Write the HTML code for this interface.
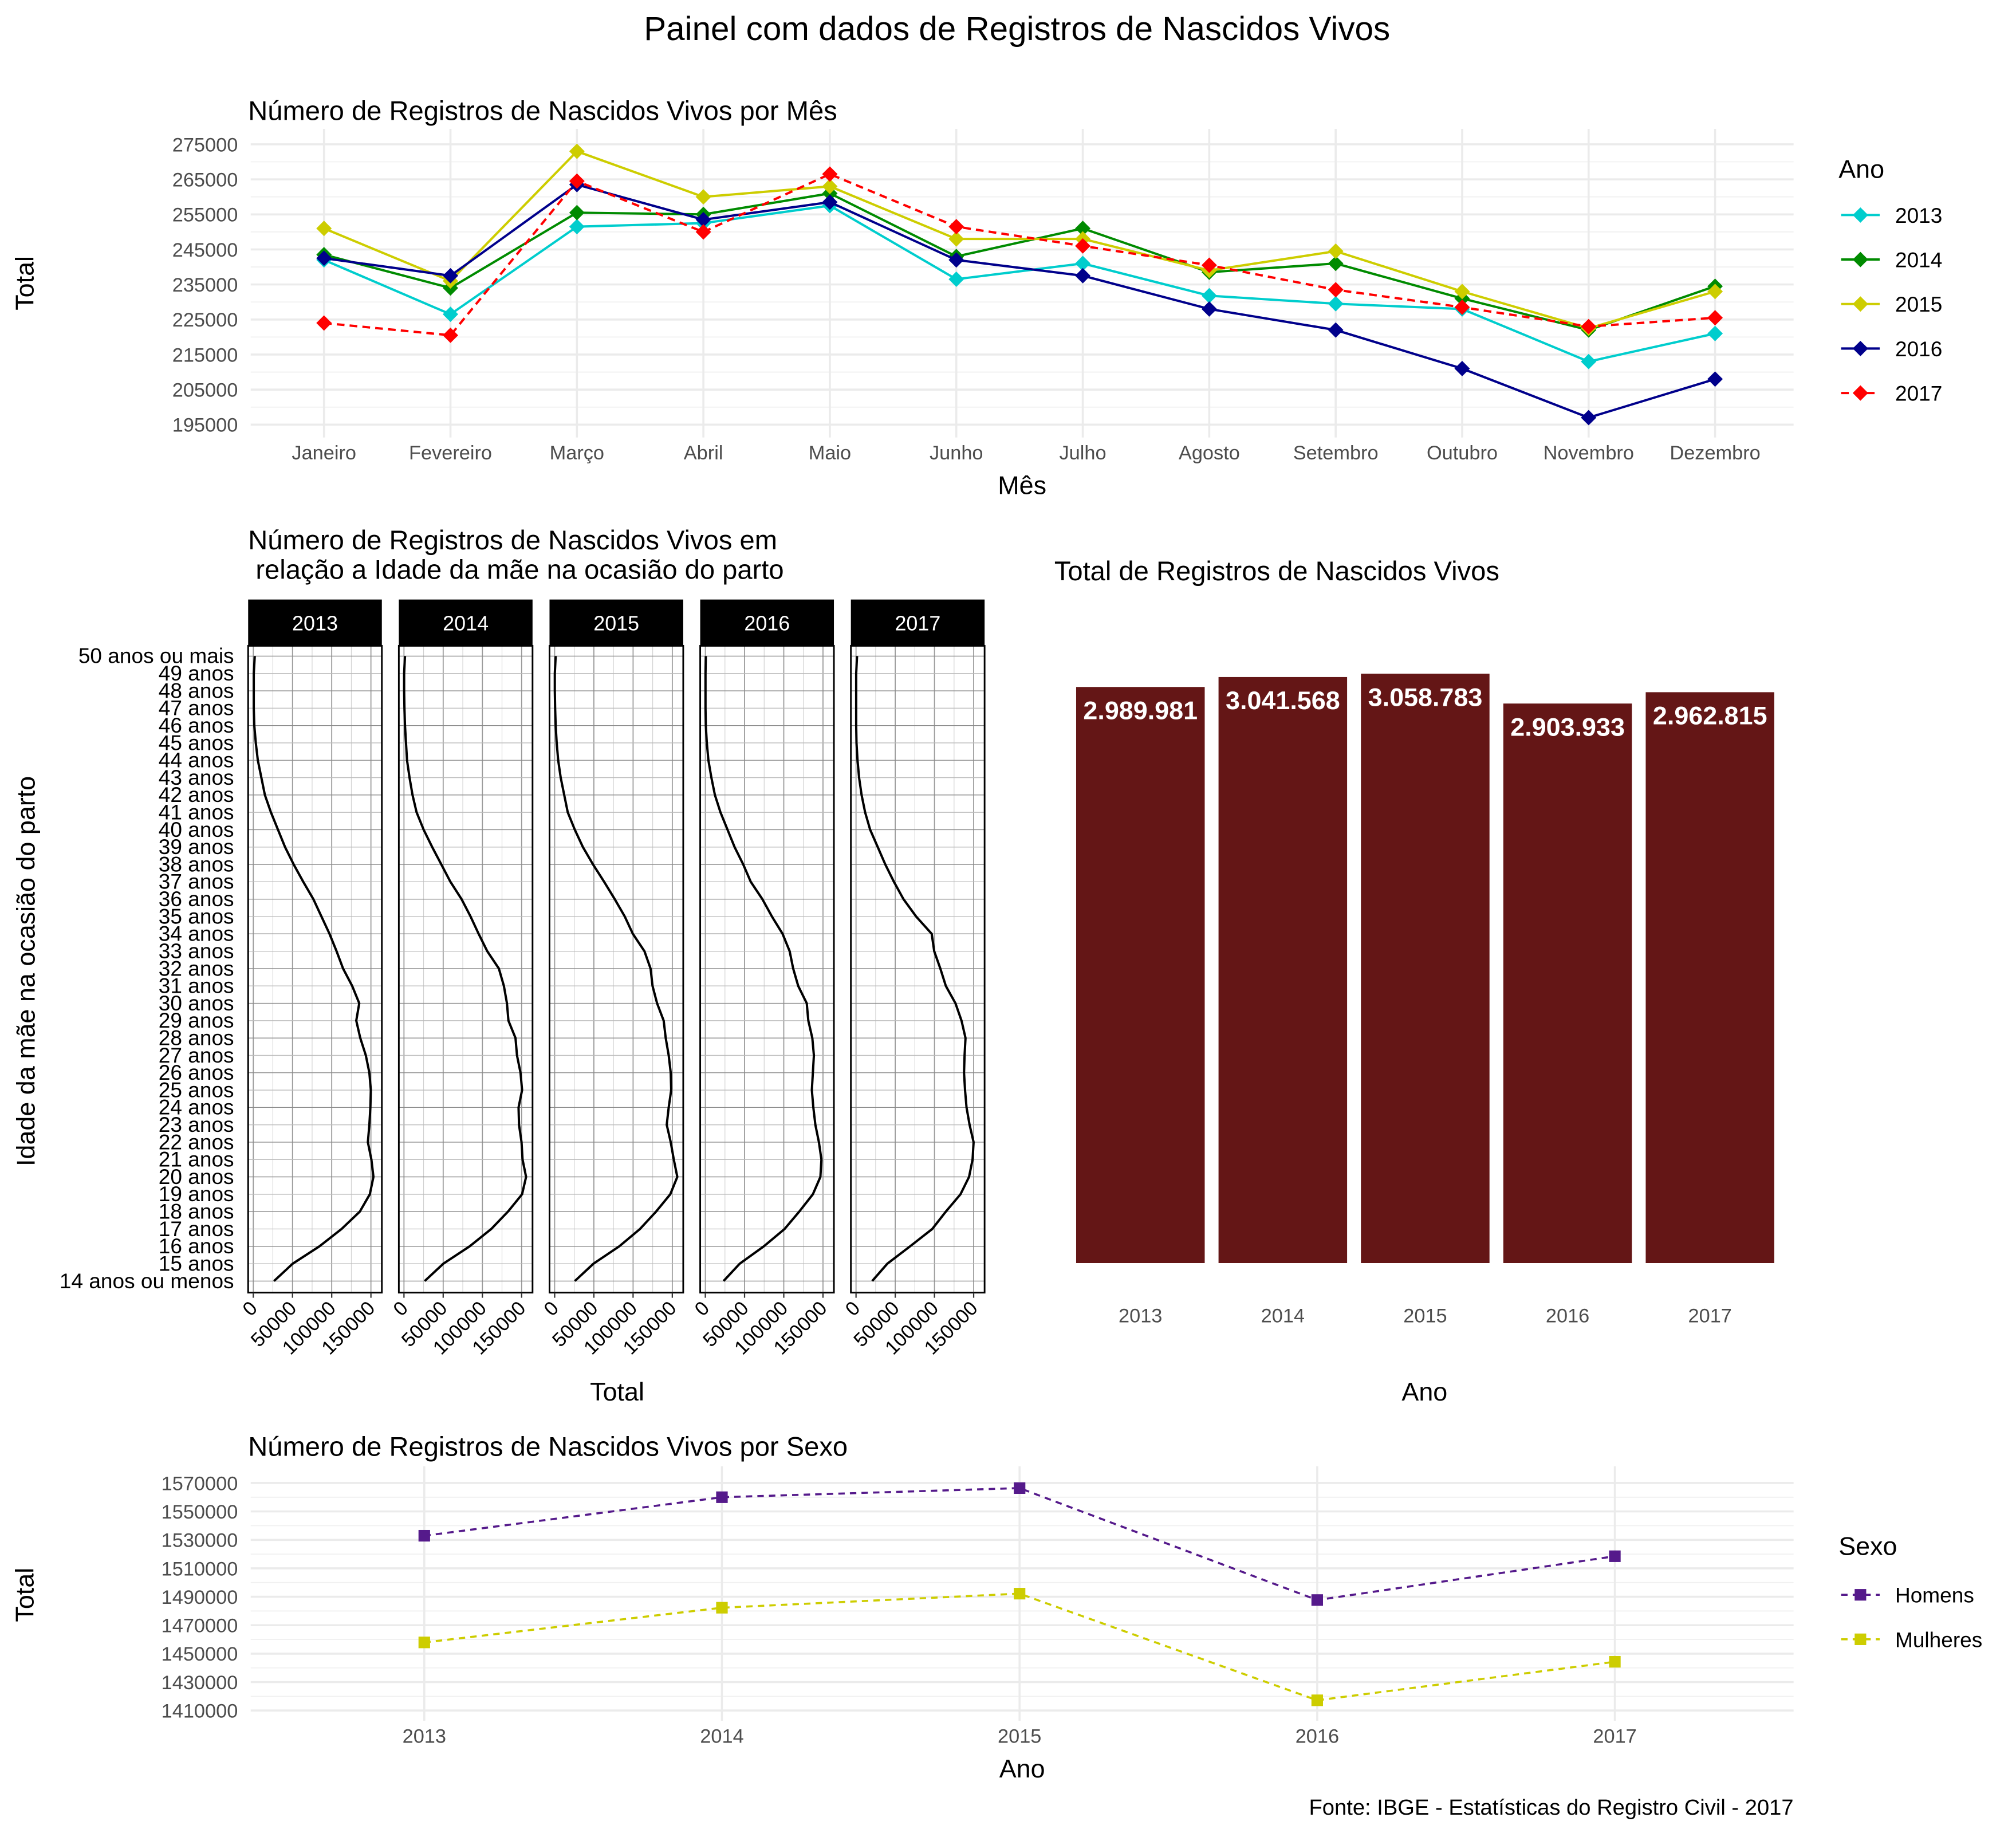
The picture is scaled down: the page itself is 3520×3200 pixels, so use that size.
<!DOCTYPE html>
<html><head><meta charset="utf-8">
<style>
html,body{margin:0;padding:0;background:#fff;}
svg{display:block;font-family:"Liberation Sans",Arial,sans-serif;}
</style></head>
<body>
<svg id="root" width="3520" height="3200" viewBox="0 0 1568 1425" xmlns="http://www.w3.org/2000/svg">
<rect width="1568" height="1425" fill="#fff"/>
<text x="791" y="31" text-anchor="middle" font-size="26">Painel com dados de Registros de Nascidos Vivos</text>
<g id="g1"></g>
<g id="g2"></g>
<g id="g3"></g>
<g id="g4"></g>
<text x="1395" y="1411" text-anchor="end" font-size="17">Fonte: IBGE - Estatísticas do Registro Civil - 2017</text>
</svg>
<script>
// ---- Chart 1 data ----
const months = ["Janeiro","Fevereiro","Março","Abril","Maio","Junho","Julho","Agosto","Setembro","Outubro","Novembro","Dezembro"];
const years = ["2013","2014","2015","2016","2017"];
const m2013 = [242000,226500,251500,252500,257500,236500,241000,231800,229500,228000,213000,221000];
const m2014 = [243500,234000,255500,255000,261000,243000,251000,238500,241000,231000,222000,234500];
const m2015 = [251000,236000,273000,260000,263000,248000,248000,239000,244500,233000,222500,233000];
const m2016 = [242500,237500,263500,253500,258500,242000,237500,228000,222000,211000,197000,208000];
const m2017 = [224000,220500,264500,250000,266500,251500,246000,240500,233500,228500,223000,225500];
const monthTicks = [195000,205000,215000,225000,235000,245000,255000,265000,275000];
// ---- Chart 2 data ----
const ages = ["14 anos ou menos","15 anos","16 anos","17 anos","18 anos","19 anos","20 anos","21 anos","22 anos","23 anos","24 anos","25 anos","26 anos","27 anos","28 anos","29 anos","30 anos","31 anos","32 anos","33 anos","34 anos","35 anos","36 anos","37 anos","38 anos","39 anos","40 anos","41 anos","42 anos","43 anos","44 anos","45 anos","46 anos","47 anos","48 anos","49 anos","50 anos ou mais"];
const a2013 = [26400,50200,84300,112600,135800,148600,153200,150600,146100,148000,149300,149900,148000,143500,136400,131300,135100,126100,114500,106200,97200,86900,76600,63700,51500,40500,31500,22500,14800,10300,5800,3200,1300,600,600,600,1900];
const a2014 = [26400,50200,83700,111300,132600,150600,155700,151200,149900,146700,146100,150600,148600,144100,142200,133200,131300,127400,121000,106200,95200,84900,73400,59200,47600,36000,25100,16100,10900,7100,3900,2600,1300,600,200,200,1300];
const a2015 = [25700,49500,82400,108800,129300,147400,156400,151900,148000,142900,145400,148600,148000,145400,141600,139000,130600,124800,122300,114500,99700,89400,76600,63100,48900,36000,25700,16700,12200,7700,4500,2600,1300,600,200,200,1300];
const a2016 = [23200,43800,74600,101000,119700,137100,146700,148000,144800,140300,137700,135800,137100,138400,136400,131300,129300,118400,112000,107500,98500,84900,72700,57900,48300,37300,28300,19300,12200,7700,3900,1900,600,200,200,200,600];
const a2017 = [20600,39900,68900,97200,114500,133200,144100,148600,149900,144800,140900,139000,137700,138400,139600,134500,126800,114500,107500,99700,96500,76600,60500,48300,37300,27700,18000,11600,7100,3900,1900,600,200,200,200,200,1300];
const ageTicks = [0,50000,100000,150000];
// ---- Chart 3 data ----
const totals = [2989981,3041568,3058783,2903933,2962815];
const totalLabels = ["2.989.981","3.041.568","3.058.783","2.903.933","2.962.815"];
// ---- Chart 4 data ----
const homens = [1532900,1560000,1566400,1487700,1518500];
const mulheres = [1457900,1482300,1492200,1417200,1444300];
const sexTicks = [1410000,1430000,1450000,1470000,1490000,1510000,1530000,1550000,1570000];

const NS="http://www.w3.org/2000/svg";
function mk(parent,tag,attrs,text){const e=document.createElementNS(NS,tag);for(const k in attrs)e.setAttribute(k,attrs[k]);if(text!==undefined)e.textContent=text;parent.appendChild(e);return e;}
function diamond(x,y,r){return `M${x},${y-r}L${x+r},${y}L${x},${y+r}L${x-r},${y}Z`;}

// ===== Chart 1 =====
(function(){
  const g=document.getElementById('g1');
  const L=195,R=1395,T=100,B=340;
  const y=v=>330-(v-195000)/10000*27.25;
  const x=i=>252+i*98.36;
  let t=mk(g,'text',{x:193,y:93,'font-size':21},'Número de Registros de Nascidos Vivos por Mês');
  
  for(let i=0;i<monthTicks.length-1;i++){const v=(monthTicks[i]+monthTicks[i+1])/2;mk(g,'line',{x1:L,x2:R,y1:y(v),y2:y(v),stroke:'#f0f0f0','stroke-width':0.8});}
  monthTicks.forEach(v=>{mk(g,'line',{x1:L,x2:R,y1:y(v),y2:y(v),stroke:'#ebebeb','stroke-width':1.6});
    const e=mk(g,'text',{x:185,y:y(v)+5.5,'text-anchor':'end','font-size':15.3,fill:'#4d4d4d'},String(v));
    });
  months.forEach((m,i)=>{mk(g,'line',{x1:x(i),x2:x(i),y1:T,y2:B,stroke:'#ebebeb','stroke-width':1.6});
    const e=mk(g,'text',{x:x(i),y:357,'text-anchor':'middle','font-size':15.3,fill:'#4d4d4d'},m);
    });
  t=mk(g,'text',{x:795,y:384,'text-anchor':'middle','font-size':20},'Mês');
  t=mk(g,'text',{x:26,y:220,'text-anchor':'middle','font-size':20,transform:'rotate(-90 26 220)'},'Total');
  const series=[[m2013,'#00CDCD',''],[m2014,'#008B00',''],[m2015,'#CDCD00',''],[m2016,'#00008B',''],[m2017,'#FF0000','6,4']];
  series.forEach((s,si)=>{
    const pl=mk(g,'polyline',{points:s[0].map((v,i)=>x(i)+','+y(v)).join(' '),fill:'none',stroke:s[1],'stroke-width':1.8,'stroke-dasharray':s[2]||'none'});
    
    s[0].forEach((v,i)=>{const p=mk(g,'path',{d:diamond(x(i),y(v),6),fill:s[1]});
      });
    const ly=167+si*34.6;
    const le=mk(g,'g',{});
    mk(le,'line',{x1:1432,x2:1462,y1:ly,y2:ly,stroke:s[1],'stroke-width':1.8,'stroke-dasharray':s[2]||'none'});
    mk(le,'path',{d:diamond(1447,ly,6),fill:s[1]});
    mk(le,'text',{x:1474,y:ly+6,'font-size':16.5},years[si]);
  });
  t=mk(g,'text',{x:1430,y:138,'font-size':20},'Ano');
})();

// ===== Chart 2 =====
(function(){
  const g=document.getElementById('g2');
  let t=mk(g,'text',{x:193,y:427,'font-size':21},'Número de Registros de Nascidos Vivos em');
  mk(g,'text',{x:193,y:450,'font-size':21},'\u00a0relação a Idade da mãe na ocasião do parto');
  const data=[a2013,a2014,a2015,a2016,a2017];
  const y=i=>996-i*13.5;
  const T=502,B=1005;
  ages.forEach((a,i)=>{const e=mk(g,'text',{x:182,y:y(i)+5.5,'text-anchor':'end','font-size':16.5},a);
    });
  data.forEach((d,p)=>{
    const left=193+p*117.2,w=104;
    const x=v=>left+4+v/50000*30.5;
    const panel=mk(g,'g',{});
    for(let k=0;k<7;k++){const v=k*25000;mk(panel,'line',{x1:x(v),x2:x(v),y1:T,y2:B,stroke:k%2? '#d0d0d0':'#9a9a9a','stroke-width':k%2?0.5:0.8});}
    ages.forEach((a,i)=>mk(panel,'line',{x1:left,x2:left+w,y1:y(i),y2:y(i),stroke:i%2?'#bbbbbb':'#8a8a8a','stroke-width':0.6}));
    mk(panel,'rect',{x:left,y:T,width:w,height:B-T,fill:'none',stroke:'#000','stroke-width':1.3});
    const st=mk(panel,'rect',{x:left,y:466,width:w,height:36,fill:'#000'});
    
    mk(panel,'text',{x:left+w/2,y:490,'text-anchor':'middle','font-size':16,fill:'#fff'},years[p]);
    const pl=mk(panel,'polyline',{points:d.map((v,i)=>x(v)+','+y(i)).join(' '),fill:'none',stroke:'#000','stroke-width':1.8});
    
    ageTicks.forEach(v=>{mk(panel,'line',{x1:x(v),x2:x(v),y1:B,y2:B+4,stroke:'#333'});
      const e=mk(panel,'text',{x:x(v)+4,y:B+13,'text-anchor':'end','font-size':15.3,transform:`rotate(-45 ${x(v)+4} ${B+13})`},String(v));
      });
  });
  t=mk(g,'text',{x:480,y:1089,'text-anchor':'middle','font-size':20},'Total');
  t=mk(g,'text',{x:27,y:755,'text-anchor':'middle','font-size':20,transform:'rotate(-90 27 755)'},'Idade da mãe na ocasião do parto');
})();

// ===== Chart 3 =====
(function(){
  const g=document.getElementById('g3');
  let t=mk(g,'text',{x:820,y:451,'font-size':21},'Total de Registros de Nascidos Vivos');
  const base=982,k=448/2989981;
  const cx=i=>887+i*110.75;
  totals.forEach((v,i)=>{
    const h=v*k;
    const r=mk(g,'rect',{x:cx(i)-50,y:base-h,width:100,height:h,fill:'#641616'});
    
    const e=mk(g,'text',{x:cx(i),y:base-h+25,'text-anchor':'middle','font-size':20,'font-weight':'bold',fill:'#fff'},totalLabels[i]);
    
    const l=mk(g,'text',{x:cx(i),y:1028,'text-anchor':'middle','font-size':15.3,fill:'#4d4d4d'},years[i]);
    
  });
  t=mk(g,'text',{x:1108,y:1089,'text-anchor':'middle','font-size':20},'Ano');
})();

// ===== Chart 4 =====
(function(){
  const g=document.getElementById('g4');
  const L=195,R=1395,T=1140,B=1338;
  const y=v=>1330-(v-1410000)/10000*11.06;
  const x=i=>330+i*231.5;
  let t=mk(g,'text',{x:193,y:1132,'font-size':21},'Número de Registros de Nascidos Vivos por Sexo');
  for(let i=0;i<sexTicks.length-1;i++){const v=(sexTicks[i]+sexTicks[i+1])/2;mk(g,'line',{x1:L,x2:R,y1:y(v),y2:y(v),stroke:'#f0f0f0','stroke-width':0.8});}
  sexTicks.forEach(v=>{mk(g,'line',{x1:L,x2:R,y1:y(v),y2:y(v),stroke:'#ebebeb','stroke-width':1.6});
    const e=mk(g,'text',{x:185,y:y(v)+5.5,'text-anchor':'end','font-size':15.3,fill:'#4d4d4d'},String(v));
    });
  years.forEach((yr,i)=>{mk(g,'line',{x1:x(i),x2:x(i),y1:T,y2:B,stroke:'#ebebeb','stroke-width':1.6});
    const e=mk(g,'text',{x:x(i),y:1355,'text-anchor':'middle','font-size':15.3,fill:'#4d4d4d'},yr);
    });
  t=mk(g,'text',{x:795,y:1382,'text-anchor':'middle','font-size':20},'Ano');
  t=mk(g,'text',{x:26,y:1240,'text-anchor':'middle','font-size':20,transform:'rotate(-90 26 1240)'},'Total');
  const series=[[homens,'#551A8B','Homens'],[mulheres,'#CDCD00','Mulheres']];
  series.forEach((s,si)=>{
    const pl=mk(g,'polyline',{points:s[0].map((v,i)=>x(i)+','+y(v)).join(' '),fill:'none',stroke:s[1],'stroke-width':1.6,'stroke-dasharray':'5,4'});
    
    s[0].forEach((v,i)=>{const r=mk(g,'rect',{x:x(i)-4.5,y:y(v)-4.5,width:9,height:9,fill:s[1]});
      });
    const ly=1240+si*34.6;
    const le=mk(g,'g',{});
    mk(le,'line',{x1:1432,x2:1462,y1:ly,y2:ly,stroke:s[1],'stroke-width':1.6,'stroke-dasharray':'5,4'});
    mk(le,'rect',{x:1442.5,y:ly-4.5,width:9,height:9,fill:s[1]});
    mk(le,'text',{x:1474,y:ly+6,'font-size':16.5},s[2]);
  });
  t=mk(g,'text',{x:1430,y:1209,'font-size':20},'Sexo');
})();
</script>
</body></html>
